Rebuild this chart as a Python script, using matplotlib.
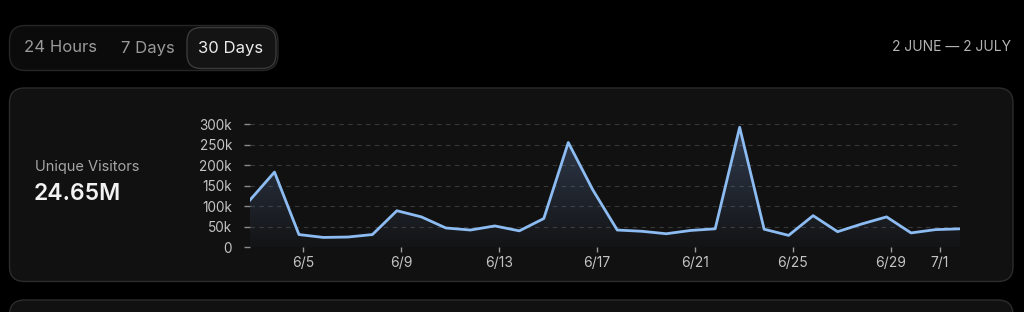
import numpy as np
import matplotlib
matplotlib.use("Agg")
import matplotlib.pyplot as plt
from matplotlib.patches import FancyBboxPatch
from matplotlib.ticker import FuncFormatter

plt.rcParams['font.family'] = ['Inter', 'DejaVu Sans']

# daily unique visitors, 3 June .. 2 July
days = ["6/3", "6/4", "6/5", "6/6", "6/7", "6/8", "6/9", "6/10", "6/11", "6/12",
        "6/13", "6/14", "6/15", "6/16", "6/17", "6/18", "6/19", "6/20", "6/21", "6/22",
        "6/23", "6/24", "6/25", "6/26", "6/27", "6/28", "6/29", "6/30", "7/1", "7/2"]
visitors = [115000, 183000, 31000, 24000, 25000, 31000, 89000, 74000, 47000, 42000,
            52000, 40000, 70000, 255000, 140000, 42000, 39000, 33000, 41000, 45000,
            292000, 44000, 29000, 77000, 38000, 57000, 74000, 35000, 43000, 45000]
tick_days = ["6/5", "6/9", "6/13", "6/17", "6/21", "6/25", "6/29", "7/1"]
y_ticks = [0, 50000, 100000, 150000, 200000, 250000, 300000]

ranges = ["24 Hours", "7 Days", "30 Days"]
date_span = "2 JUNE \u2014 2 JULY"
metric_name = "Unique Visitors"
metric_total = "24.65M"

W, H = 1024, 312
fig = plt.figure(figsize=(W / 100, H / 100), dpi=100, facecolor="black")

# background layer in pixel coordinates
bg = fig.add_axes([0, 0, 1, 1])
bg.set_xlim(0, W)
bg.set_ylim(H, 0)
bg.axis("off")
bg.set_facecolor("black")

def rbox(x0, y0, x1, y1, r, fc, ec, lw=1.0):
    bg.add_patch(FancyBboxPatch((x0, y0), x1 - x0, y1 - y0,
                                boxstyle="round,pad=0,rounding_size=%d" % r,
                                fc=fc, ec=ec, lw=lw))

# range selector
rbox(9.5, 25.5, 278, 70.5, 16, "#0b0b0b", "#262626")
rbox(187, 27.5, 276, 68.5, 14, "#141414", "#3a3a3a")
for label, cx in zip(ranges, [61, 148, 231]):
    sel = label == "30 Days"
    bg.text(cx, 48, label, ha="center", va="center", fontsize=12,
            color="#ececec" if sel else "#9a9a9a")

bg.text(1011, 47, date_span, ha="right", va="center", fontsize=10, color="#b4b4b4")

# cards
rbox(9.5, 88, 1013, 281.5, 15, "#111111", "#2c2c2c")
rbox(9.5, 300, 1013, 340, 15, "#111111", "#2c2c2c")

bg.text(35, 167, metric_name, ha="left", va="center", fontsize=10.5, color="#a6a6a6")
bg.text(34, 194, metric_total, ha="left", va="center", fontsize=16.5,
        fontweight="semibold", color="#f2f2f2")

# chart
ax = fig.add_axes([250 / W, (H - 247.3) / H, 710 / W, 123.3 / H])
ax.set_facecolor("none")
x = np.arange(len(days))
off = 0.165  # ticks sit slightly right of the points
ax.set_xlim(x[0], x[-1])
ax.set_ylim(0, 300000)

line_c = "#8cbcf2"
ax.plot(x, visitors, color=line_c, lw=2.0, solid_joinstyle="round", zorder=3)
poly = ax.fill_between(x, visitors, 0, color="none", lw=0)
grad = np.linspace(0, 1, 256).reshape(-1, 1)
cmap = matplotlib.colors.LinearSegmentedColormap.from_list(
    "g", [(0.35, 0.45, 0.62, 0.03), (0.35, 0.45, 0.62, 0.45)])
im = ax.imshow(grad, cmap=cmap, aspect="auto", origin="lower",
               extent=[x[0], x[-1], 0, max(visitors)], zorder=2)
im.set_clip_path(poly.get_paths()[0], transform=ax.transData)

ax.set_yticks(y_ticks)
ax.yaxis.set_major_formatter(FuncFormatter(lambda v, p: "0" if v == 0 else "%dk" % (v / 1000)))
ax.set_xticks([days.index(d) + off for d in tick_days])
ax.set_xticklabels(tick_days)
ax.grid(axis="y", color="#383838", lw=0.8, ls=(0, (4, 4)))
ax.tick_params(axis="y", length=4, width=1, color="#8a8a8a", pad=9,
               labelsize=9.8, labelcolor="#c4c4c4")
ax.tick_params(axis="x", length=3.6, width=1, color="#9a9a9a", pad=3,
               labelsize=10, labelcolor="#c4c4c4")
for s in ax.spines.values():
    s.set_visible(False)

fig.savefig("out.png", dpi=100, facecolor="black")
